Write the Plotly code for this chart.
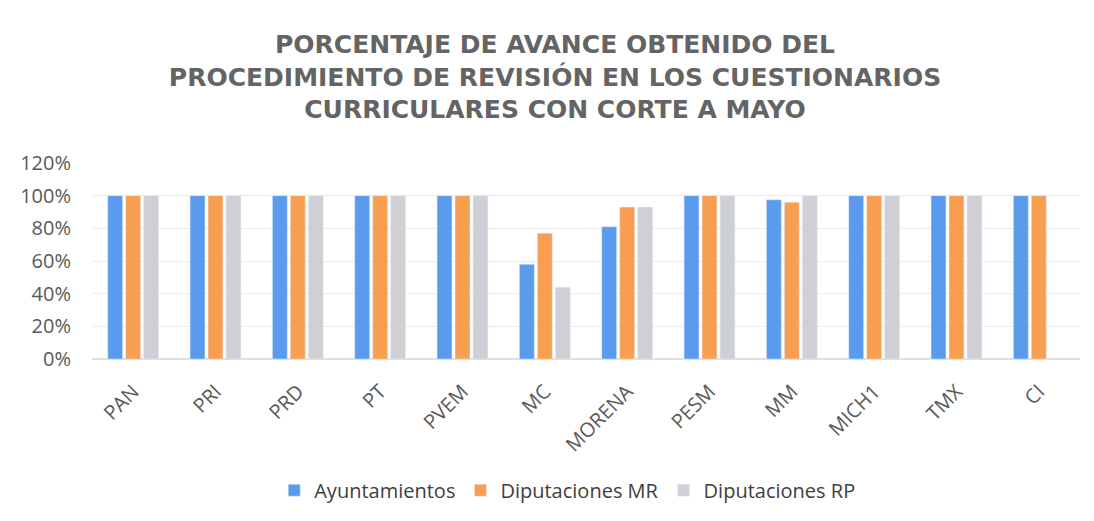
import plotly.graph_objects as go

partidos = ["PAN", "PRI", "PRD", "PT", "PVEM", "MC", "MORENA", "PESM", "MM", "MICH1", "TMX", "CI"]
ayuntamientos = [1.00, 1.00, 1.00, 1.00, 1.00, 0.58, 0.81, 1.00, 0.975, 1.00, 1.00, 1.00]
diputaciones_mr = [1.00, 1.00, 1.00, 1.00, 1.00, 0.77, 0.93, 1.00, 0.96, 1.00, 1.00, 1.00]
diputaciones_rp = [1.00, 1.00, 1.00, 1.00, 1.00, 0.44, 0.93, 1.00, 1.00, 1.00, 1.00, None]

fig = go.Figure()
fig.add_trace(go.Bar(x=partidos, y=ayuntamientos, name="Ayuntamientos", marker_color="#5B9BEE"))
fig.add_trace(go.Bar(x=partidos, y=diputaciones_mr, name="Diputaciones MR", marker_color="#F89E51"))
fig.add_trace(go.Bar(x=partidos, y=diputaciones_rp, name="Diputaciones RP", marker_color="#CFD0D6"))

# page body adds an 8px offset, so the figure is 8px smaller than the window
fig.update_layout(
    width=1086,
    height=513,
    paper_bgcolor="white",
    plot_bgcolor="white",
    title=dict(
        text="PORCENTAJE DE AVANCE OBTENIDO DEL<br>PROCEDIMIENTO DE REVISIÓN EN LOS CUESTIONARIOS<br>CURRICULARES CON CORTE A MAYO",
        x=0.5037,
        xanchor="center",
        y=0.912,
        yanchor="top",
        font=dict(family="DejaVu Sans", size=25, color="#646464", weight="bold"),
    ),
    font=dict(family="Open Sans", size=20, color="#595959"),
    margin=dict(l=82, r=14, t=155, b=156),
    barmode="group",
    bargap=0.345,
    bargroupgap=0.17,
    legend=dict(
        orientation="h",
        x=0.481,
        xanchor="center",
        y=-0.57,
        yanchor="top",
        font=dict(size=20, color="#404040"),
        itemwidth=30,
    ),
)
fig.update_yaxes(
    range=[0, 1.2],
    dtick=0.2,
    tickformat=".0%",
    showgrid=True,
    gridcolor="#ECECEC",
    zeroline=True,
    zerolinecolor="#E0E0E0",
    ticks="",
    ticklabelstandoff=20,
)
fig.update_xaxes(tickangle=-45, showline=False, ticks="", ticklabelstandoff=16)

fig.write_html("out.html")
